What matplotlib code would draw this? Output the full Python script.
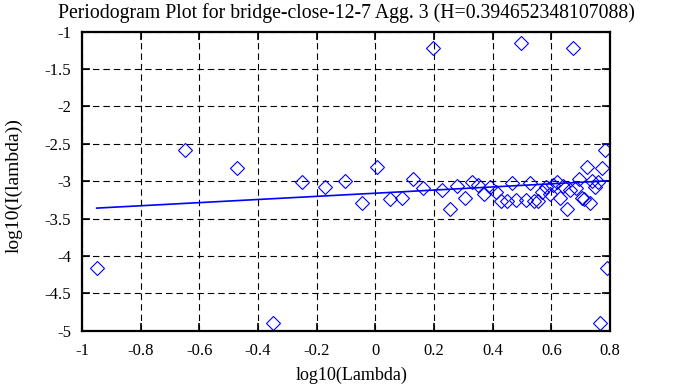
import matplotlib
matplotlib.use("Agg")
import matplotlib.pyplot as plt

# log10(lambda) for each periodogram ordinate
log_lambda = [-0.950, -0.649, -0.473, -0.348, -0.251, -0.172, -0.105, -0.047, 0.004, 0.050,
              0.091, 0.129, 0.164, 0.196, 0.226, 0.254, 0.280, 0.305, 0.329, 0.351,
              0.372, 0.392, 0.412, 0.430, 0.448, 0.465, 0.481, 0.497, 0.512, 0.527,
              0.541, 0.555, 0.569, 0.581, 0.594, 0.606, 0.618, 0.630, 0.641, 0.652,
              0.663, 0.673, 0.683, 0.693, 0.703, 0.713, 0.722, 0.731, 0.740, 0.749,
              0.758, 0.766, 0.774, 0.782, 0.790]

# log10(I(lambda))
log_I = [-4.165, -2.583, -2.819, -4.90, -3.007, -3.082, -2.997, -3.296, -2.806, -3.242,
         -3.229, -2.97, -3.095, -1.222, -3.118, -3.376, -3.064, -3.22, -3.006, -3.051,
         -3.176, -3.08, -3.14, -3.26, -3.27, -3.03, -3.25, -1.147, -3.25, -3.03,
         -3.27, -3.26, -3.14, -3.08, -3.176, -3.051, -3.006, -3.22, -3.064, -3.376,
         -3.118, -1.222, -3.095, -2.97, -3.229, -3.242, -2.806, -3.296, -2.997, -3.082,
         -3.007, -4.90, -2.819, -2.583, -4.165]

# least squares fit line end points
fit_x = [-0.95, 0.79]
fit_y = [-3.36, -2.995]

x_ticks = [-1, -0.8, -0.6, -0.4, -0.2, 0, 0.2, 0.4, 0.6, 0.8]
x_tick_labels = ["-1", "-0.8", "-0.6", "-0.4", "-0.2", "0", "0.2", "0.4", "0.6", "0.8"]
y_ticks = [-1, -1.5, -2, -2.5, -3, -3.5, -4, -4.5, -5]
y_tick_labels = ["-1", "-1.5", "-2", "-2.5", "-3", "-3.5", "-4", "-4.5", "-5"]

plt.rcParams["font.family"] = ["Liberation Serif", "DejaVu Serif"]
plt.rcParams["font.size"] = 12

fig = plt.figure(figsize=(6.88, 3.87), dpi=100)
ax = fig.add_axes([82 / 688, 1 - 330.7 / 387, 528 / 688, 299 / 387])

ax.plot(log_lambda, log_I, linestyle="none", marker="D", markersize=7.1,
        markerfacecolor="none", markeredgecolor="#0000ff", markeredgewidth=0.8)
ax.plot(fit_x, fit_y, color="#0000ff", linewidth=1.2)

ax.set_xlim(-1, 0.8)
ax.set_ylim(-5, -1)
ax.set_xticks(x_ticks)
ax.set_xticklabels(x_tick_labels)
ax.set_yticks(y_ticks)
ax.set_yticklabels(y_tick_labels)

ax.grid(True, color="black", linestyle=(0, (5.8, 3.6)), linewidth=0.8)
ax.tick_params(direction="in", length=6, width=1.2, top=True, right=True)
ax.tick_params(axis="x", pad=9)
ax.tick_params(axis="y", pad=8)
for s in ax.spines.values():
    s.set_linewidth(1.6)

ax.set_title("Periodogram Plot for bridge-close-12-7 Agg. 3 (H=0.394652348107088)",
             fontsize=14.2, pad=10)
ax.set_xlabel("log10(Lambda)", fontsize=13)
ax.set_ylabel("log10(I(lambda))", fontsize=14)
ax.xaxis.set_label_coords(0.511, -0.121)
ax.yaxis.set_label_coords(-0.113, 0.487)

fig.savefig("out.png", dpi=100)
